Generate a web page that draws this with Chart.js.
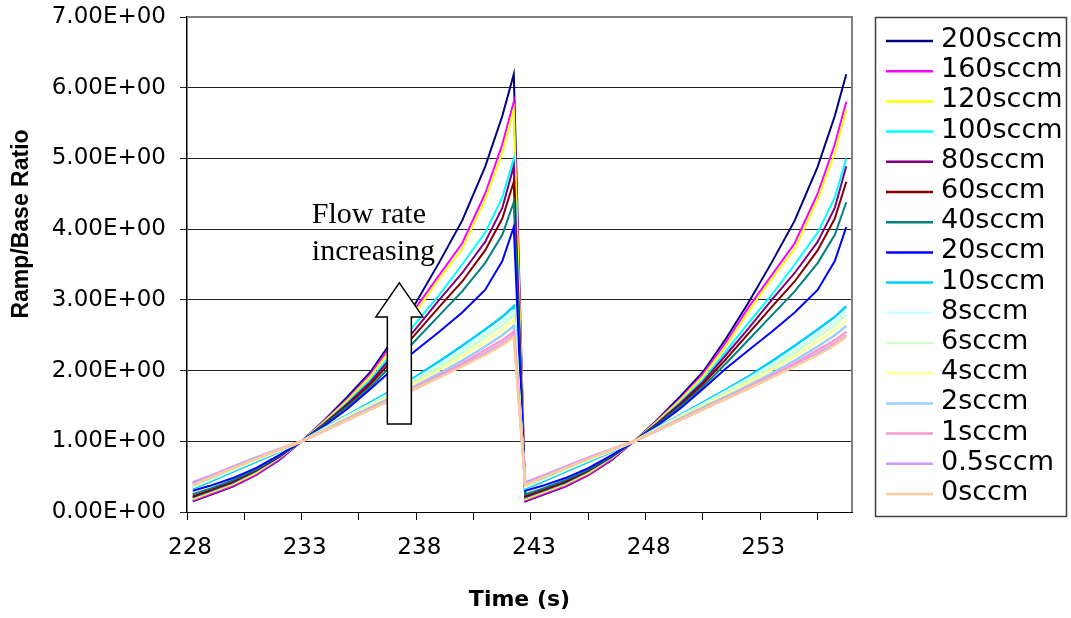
<!DOCTYPE html>
<html>
<head>
<meta charset="utf-8">
<script src="https://cdn.jsdelivr.net/npm/chart.js@4.4.1/dist/chart.umd.min.js"></script>
<style>
  body { margin: 0; background: #fff; }
  #wrap { width: 1071px; height: 618px; position: relative; }
</style>
</head>
<body>
<div id="wrap"><canvas id="myChart"></canvas></div>
<script>
// sample times (s): two identical ramps, one after the other
const times = [228.25, 229, 230, 231, 232, 233, 234, 235, 236, 237, 238, 239, 240, 241, 241.75, 242.25,
               242.75, 243.5, 244.5, 245.5, 246.5, 247.5, 248.5, 249.5, 250.5, 251.5, 252.5, 253.5, 254.5, 255.5, 256.25, 256.75];

// ratio along one ramp (both ramps look the same)
const ramp200 = [0.15, 0.24, 0.36, 0.52, 0.73, 1.00, 1.30, 1.63, 1.98, 2.45, 2.97, 3.53, 4.12, 4.88, 5.60, 6.19];
const ramp160 = [0.16, 0.25, 0.37, 0.53, 0.74, 1.00, 1.29, 1.60, 1.95, 2.40, 2.90, 3.35, 3.80, 4.50, 5.20, 5.80];
const ramp120 = [0.18, 0.27, 0.39, 0.55, 0.76, 1.00, 1.28, 1.58, 1.92, 2.35, 2.84, 3.30, 3.72, 4.42, 5.08, 5.69];
const ramp100 = [0.20, 0.29, 0.41, 0.57, 0.77, 1.00, 1.26, 1.55, 1.87, 2.27, 2.68, 3.07, 3.50, 3.95, 4.45, 5.00];
const ramp80  = [0.21, 0.30, 0.42, 0.58, 0.78, 1.00, 1.25, 1.53, 1.84, 2.22, 2.60, 3.00, 3.38, 3.82, 4.30, 4.89];
const ramp60  = [0.22, 0.31, 0.43, 0.59, 0.78, 1.00, 1.24, 1.51, 1.81, 2.16, 2.53, 2.90, 3.26, 3.70, 4.15, 4.67];
const ramp40  = [0.25, 0.33, 0.45, 0.60, 0.79, 1.00, 1.23, 1.49, 1.77, 2.10, 2.44, 2.78, 3.12, 3.52, 3.92, 4.38];
const ramp20  = [0.30, 0.37, 0.48, 0.62, 0.80, 1.00, 1.22, 1.46, 1.74, 2.03, 2.29, 2.55, 2.82, 3.14, 3.55, 4.03];
const ramp10  = [0.33, 0.43, 0.57, 0.71, 0.85, 1.00, 1.19, 1.37, 1.55, 1.73, 1.92, 2.13, 2.35, 2.58, 2.76, 2.91];
const ramp8   = [0.35, 0.45, 0.59, 0.73, 0.86, 1.00, 1.18, 1.36, 1.53, 1.71, 1.89, 2.09, 2.30, 2.52, 2.69, 2.84];
const ramp6   = [0.36, 0.46, 0.60, 0.73, 0.87, 1.00, 1.18, 1.35, 1.52, 1.69, 1.86, 2.05, 2.25, 2.47, 2.64, 2.79];
const ramp4   = [0.37, 0.47, 0.61, 0.74, 0.87, 1.00, 1.17, 1.34, 1.50, 1.66, 1.83, 2.01, 2.20, 2.41, 2.57, 2.71];
const ramp2   = [0.38, 0.48, 0.62, 0.75, 0.88, 1.00, 1.16, 1.32, 1.48, 1.63, 1.79, 1.96, 2.14, 2.34, 2.50, 2.63];
const ramp1   = [0.40, 0.50, 0.63, 0.76, 0.88, 1.00, 1.15, 1.31, 1.46, 1.61, 1.77, 1.93, 2.10, 2.29, 2.43, 2.55];
const ramp05  = [0.42, 0.51, 0.64, 0.77, 0.89, 1.00, 1.15, 1.30, 1.45, 1.60, 1.75, 1.91, 2.07, 2.24, 2.38, 2.50];
const ramp0   = [0.38, 0.49, 0.62, 0.75, 0.88, 1.00, 1.15, 1.30, 1.45, 1.60, 1.75, 1.90, 2.06, 2.22, 2.36, 2.48];

const seriesNames = ['200sccm', '160sccm', '120sccm', '100sccm', '80sccm', '60sccm', '40sccm', '20sccm',
                     '10sccm', '8sccm', '6sccm', '4sccm', '2sccm', '1sccm', '0.5sccm', '0sccm'];
const seriesRamps = [ramp200, ramp160, ramp120, ramp100, ramp80, ramp60, ramp40, ramp20,
                     ramp10, ramp8, ramp6, ramp4, ramp2, ramp1, ramp05, ramp0];
const seriesColors = ['#000080', '#FF00FF', '#FFFF00', '#00FFFF', '#800080', '#800000', '#008080', '#0000FF',
                      '#00CCFF', '#CCFFFF', '#CCFFCC', '#FFFF99', '#99CCFF', '#FF99CC', '#CC99FF', '#FFCC99'];

const yTickLabels = ['0.00E+00', '1.00E+00', '2.00E+00', '3.00E+00', '4.00E+00', '5.00E+00', '6.00E+00', '7.00E+00'];
const xTickLabels = ['228', '233', '238', '243', '248', '253'];

const datasets = seriesNames.map((name, i) => {
    const vals = seriesRamps[i].concat(seriesRamps[i]);
    return {
        label: name,
        data: times.map((t, j) => ({ x: t, y: vals[j] })),
        borderColor: seriesColors[i],
        backgroundColor: seriesColors[i],
        borderWidth: i < 8 ? 2 : 2.5,
        pointRadius: 0,
        tension: 0,
        order: 16 - i
    };
});

//legend, axis titles, arrow and note
const extras = {
    id: 'extras',
    afterDatasetsDraw(chart) {
        const ctx = chart.ctx;
        const xs = chart.scales.x, ys = chart.scales.y;
        // arrow "flow rate increasing"
        const tx = xs.getPixelForValue(237.26), ty = ys.getPixelForValue(3.24);
        ctx.save();
        ctx.beginPath();
        ctx.moveTo(tx, ty);
        ctx.lineTo(tx + 23.5, ty + 34);
        ctx.lineTo(tx + 12, ty + 34);
        ctx.lineTo(tx + 12, ty + 141);
        ctx.lineTo(tx - 12, ty + 141);
        ctx.lineTo(tx - 12, ty + 34);
        ctx.lineTo(tx - 23.5, ty + 34);
        ctx.closePath();
        ctx.fillStyle = '#fff';
        ctx.fill();
        ctx.strokeStyle = '#000';
        ctx.lineWidth = 1.5;
        ctx.stroke();
        ctx.fillStyle = '#000';
        ctx.font = '30px "Liberation Serif"';
        ctx.textBaseline = 'alphabetic';
        ctx.textAlign = 'left';
        ctx.fillText('Flow rate', tx - 87.5, ty - 59.5);
        ctx.fillText('increasing', tx - 87.5, ty - 23);
        ctx.restore();
    },
    afterDraw(chart) {
        const ctx = chart.ctx;
        const a = chart.chartArea;
        ctx.save();
        // plot frame top/right
        ctx.strokeStyle = '#808080';
        ctx.lineWidth = 2;
        ctx.beginPath();
        ctx.moveTo(a.left, a.top);
        ctx.lineTo(a.right, a.top);
        ctx.lineTo(a.right, a.bottom);
        ctx.stroke();
        // axis titles
        ctx.fillStyle = '#000';
        ctx.font = 'bold 22px "DejaVu Sans"';
        ctx.textAlign = 'center';
        ctx.textBaseline = 'middle';
        ctx.fillText('Time (s)', (a.left + a.right) / 2, 600);
        ctx.translate(22, 224);
        ctx.rotate(-Math.PI / 2);
        ctx.font = 'bold 23px "Liberation Sans"';
        ctx.fillText('Ramp/Base Ratio', 0, 0);
        ctx.restore();
        // legend
        ctx.save();
        ctx.strokeStyle = '#404040';
        ctx.lineWidth = 1.5;
        ctx.strokeRect(875.5, 17.5, 191, 499);
        ctx.font = '27px "DejaVu Sans"';
        ctx.textBaseline = 'middle';
        ctx.textAlign = 'left';
        chart.data.datasets.forEach((ds, i) => {
            const y = 41 + i * 30.2;
            ctx.strokeStyle = ds.borderColor;
            ctx.lineWidth = 2.5;
            ctx.beginPath();
            ctx.moveTo(886, y);
            ctx.lineTo(933, y);
            ctx.stroke();
            ctx.fillStyle = '#000';
            ctx.fillText(ds.label, 941, y - 1);
        });
        ctx.restore();
    }
};

const ctx = document.getElementById('myChart');

new Chart(ctx, {
    type: 'line',
    data: { datasets: datasets },
    plugins: [extras],
    options: {
        responsive: true,
        maintainAspectRatio: false,
        animation: false,
        layout: { padding: { top: 17, right: 219, left: 0, bottom: 0 } },
        plugins: {
            legend: { display: false },
            tooltip: { enabled: false }
        },
        scales: {
            x: {
                type: 'linear',
                min: 228,
                max: 257,
                // labelled ticks every 5 s, plain tick marks half way between
                afterBuildTicks: (s) => {
                    const t = [];
                    xTickLabels.forEach(l => { t.push({ value: +l }); t.push({ value: +l + 2.5 }); });
                    s.ticks = t;
                },
                afterFit: (s) => { s.height = 106; },
                border: { color: '#000', width: 1 },
                grid: { drawOnChartArea: false, drawTicks: true, tickLength: 8, color: '#000' },
                ticks: {
                    autoSkip: false,
                    maxRotation: 0,
                    padding: 14,
                    labelOffset: 3,
                    color: '#000',
                    font: { family: '"DejaVu Sans"', size: 23 },
                    callback: (v) => xTickLabels.includes(String(v)) ? String(v) : ''
                }
            },
            y: {
                min: 0,
                max: 7,
                afterFit: (s) => { s.width = 187; s.paddingTop = 10; s.paddingBottom = 10; },
                border: { color: '#000', width: 1.5 },
                grid: { color: '#222', lineWidth: 1, tickLength: 7 },
                ticks: {
                    stepSize: 1,
                    padding: 14,
                    color: '#000',
                    font: { family: '"DejaVu Sans"', size: 23 },
                    callback: (v, i) => yTickLabels[i]
                }
            }
        }
    }
});
</script>
</body>
</html>
